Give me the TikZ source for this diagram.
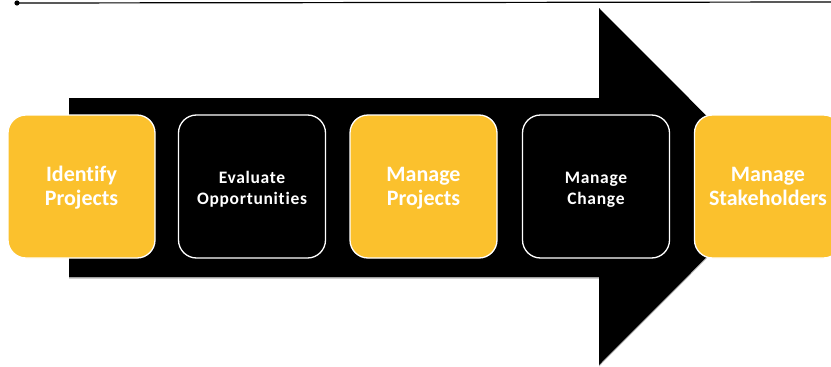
\documentclass[tikz,border=0pt]{standalone}
\usepackage{fontspec}
\setmainfont[Ligatures=NoCommon]{Carlito}
\newfontfamily\boxfont[LetterSpace=4,Ligatures=NoCommon]{Carlito}
\definecolor{gold}{RGB}{251,193,45}
\begin{document}
\begin{tikzpicture}[x=1pt,y=-1pt,
  stage/.style={rounded corners=18pt, draw=white, line width=1.3pt,
    minimum width=147pt, minimum height=143pt, inner sep=0pt,
    text=white, align=center, font=\bfseries},
  % fixed struts beside each label keep the two-line labels at one height
  goldstage/.style={stage, fill=gold,
    font=\fontsize{22}{23.5}\selectfont\bfseries,
    execute at begin node={\rule[-7pt]{0pt}{51pt}}},
  darkstage/.style={stage, fill=black,
    font=\boxfont\fontsize{17.5}{21.5}\selectfont\bfseries,
    execute at begin node={\rule[-6pt]{0pt}{48pt}}}]
  \useasboundingbox (0,0) rectangle (831,367);

  % rule across the top with a dot at its left end
  \coordinate (rulestart) at (17,3);
  \coordinate (ruleend) at (831,2);
  \draw[line width=1.2pt] (rulestart) -- (ruleend);
  \fill (rulestart) circle (2.6);

  % big block arrow behind the stages (with a soft shadow)
  \fill[gray!55] (69,99.5) -- (599,99.5) -- (599,9.5) -- (777,188) --
    (599,366.5) -- (599,278.5) -- (69,278.5) -- cycle;
  \fill[black] (69,98) -- (599,98) -- (599,8) -- (777,186.5) --
    (599,365) -- (599,277) -- (69,277) -- cycle;

  % stages
  \node[goldstage] (identify) at (81.5,186.5) {Identify\\Projects};
  \node[darkstage] (evaluate) at (252,186.5) {Evaluate\\Opportunities};
  \node[goldstage] (projects) at (423.5,186.5) {Manage\\Projects};
  \node[darkstage] (change) at (596,186.5) {Manage\\Change};
  \node[goldstage] (stakeholders) at (768,186.5) {Manage\\Stakeholders};
\end{tikzpicture}
\end{document}
